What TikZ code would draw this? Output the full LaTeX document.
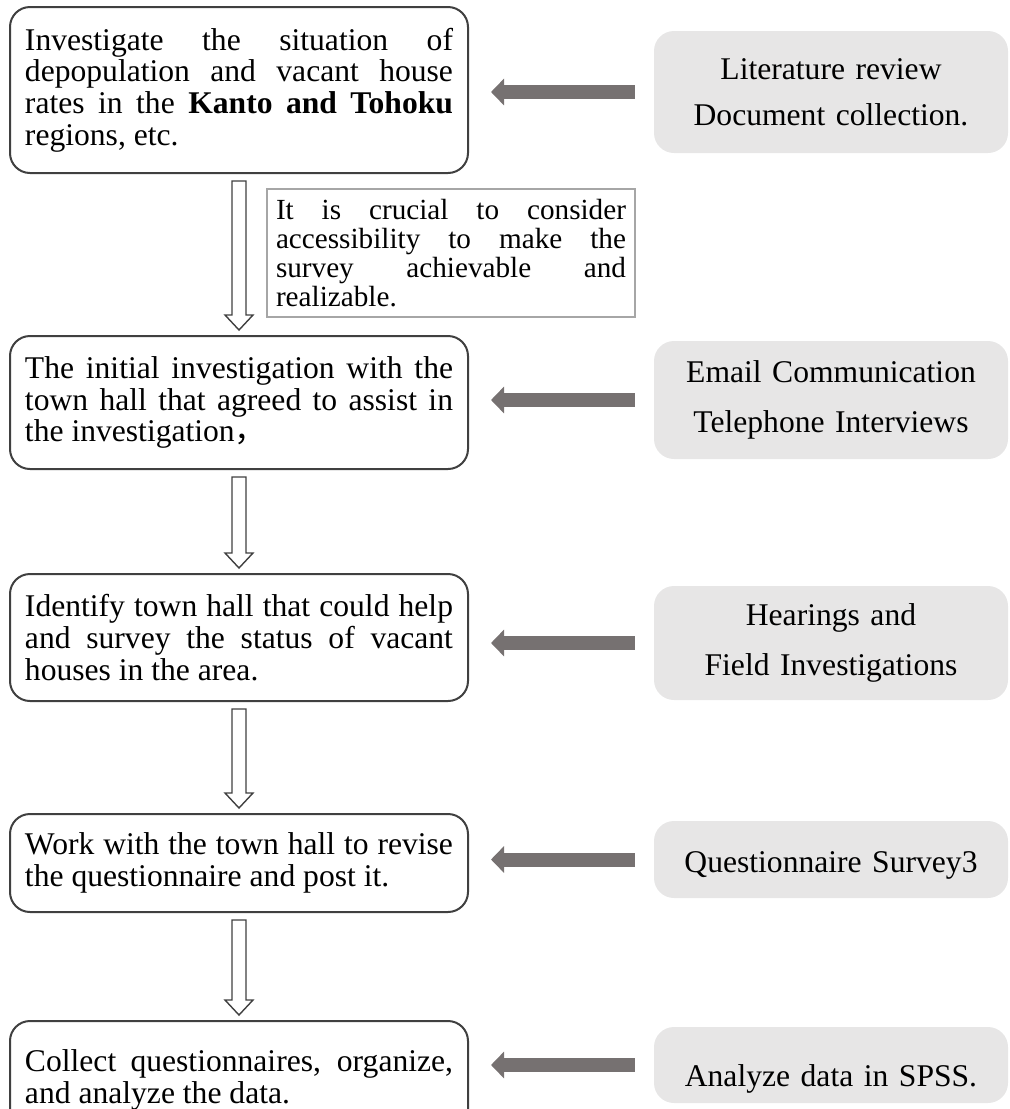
\documentclass[tikz,border=0pt]{standalone}
\usepackage{fontspec}
\setmainfont{Liberation Serif}
\newfontfamily\cjk{Noto Sans CJK SC}
\usetikzlibrary{arrows.meta, calc}
\definecolor{boxgray}{HTML}{E7E6E6}
\definecolor{arrowgray}{HTML}{767171}
\definecolor{notegray}{HTML}{A6A6A6}
\definecolor{edgegray}{HTML}{404040}
\tikzset{
    stepbox/.style = {draw = edgegray, line width = 1pt, rounded corners = 10pt, minimum width = 229pt, text width = 214pt, align = justify, inner sep = 0pt, font = \fontsize{15.8pt}{15.8pt}\selectfont},
    methodbox/.style = {fill = boxgray, rounded corners = 10pt, minimum width = 177pt, text width = 170pt, align = center, inner sep = 0pt, font = \fontsize{15.8pt}{25pt}\selectfont},
    notebox/.style = {draw = notegray, line width = 0.6pt, minimum width = 184pt, minimum height = 64pt, text width = 175pt, align = justify, inner sep = 0pt, font = \fontsize{14.6pt}{14.5pt}\selectfont},
    feed/.style = {draw = arrowgray, line width = 7pt, -{Triangle[length = 6.5pt, width = 13pt]}, shorten < = 9.5pt, shorten > = 11pt},
    hollow/.style = {draw = edgegray, line width = 0.7pt, fill = white, line join = miter}
}
\begin{document}
\begin{tikzpicture} [x = 0.5pt, y = -0.5pt]
        \clip (0,0) rectangle (1010,1109);
        \node [stepbox, minimum height = 83pt] (L1) at (239,90) {Investigate the situation of\linebreak depopulation and vacant house\linebreak rates in the \textbf{Kanto and Tohoku}\linebreak regions, etc.};
        \node [stepbox, minimum height = 66.5pt] (L2) at (239,402.5) {The initial investigation with the\linebreak town hall that agreed to assist in\linebreak the investigation{\cjk ，}};
        \node [stepbox, minimum height = 63.5pt] (L3) at (239,637.5) {Identify town hall that could help\linebreak and survey the status of vacant\linebreak houses in the area.};
        \node [stepbox, minimum height = 49pt] (L4) at (239,863) {Work with the town hall to revise\linebreak the questionnaire and post it.};
        \node [stepbox, minimum height = 59pt] (L5) at (239,1080) {Collect questionnaires, organize,\linebreak and analyze the data.};
        
        \node [methodbox, minimum height = 61pt, font = \fontsize{15.8pt}{23pt}\selectfont] (R1) at (831,92) {Literature review\\Document collection.};
        \node [methodbox, minimum height = 59pt] (R2) at (831,400) {Email Communication\\Telephone Interviews};
        \node [methodbox, minimum height = 57pt] (R3) at (831,643) {Hearings and\\Field Investigations};
        \node [methodbox, minimum height = 38.5pt] (R4) at (831,859.5) {\raisebox{-3pt}[\height][\depth]{Questionnaire Survey3}};
        \node [methodbox, minimum height = 38pt] (R5) at (831,1065) {\raisebox{-7pt}[\height][\depth]{Analyze data in SPSS.}};
        
        \node [notebox] (note) at (451,253) {It is crucial to consider\linebreak accessibility to make the\linebreak survey achievable and\linebreak realizable.};
        
        \foreach \i in {1,...,5}
            \draw [feed] (R\i.west) -- (R\i.west -| L\i.east);
        
        \foreach \a/\b in {L1/L2, L2/L3, L3/L4, L4/L5}
            \draw [hollow] ($(\a.south)+(-7,7)$) -- ($(\b.north)+(-7,-20)$) -- ($(\b.north)+(-14,-20)$) -- ($(\b.north)+(0,-5)$) -- ($(\b.north)+(14,-20)$) -- ($(\b.north)+(7,-20)$) -- ($(\a.south)+(7,7)$) -- cycle;
        
    \end{tikzpicture}
\end{document}
